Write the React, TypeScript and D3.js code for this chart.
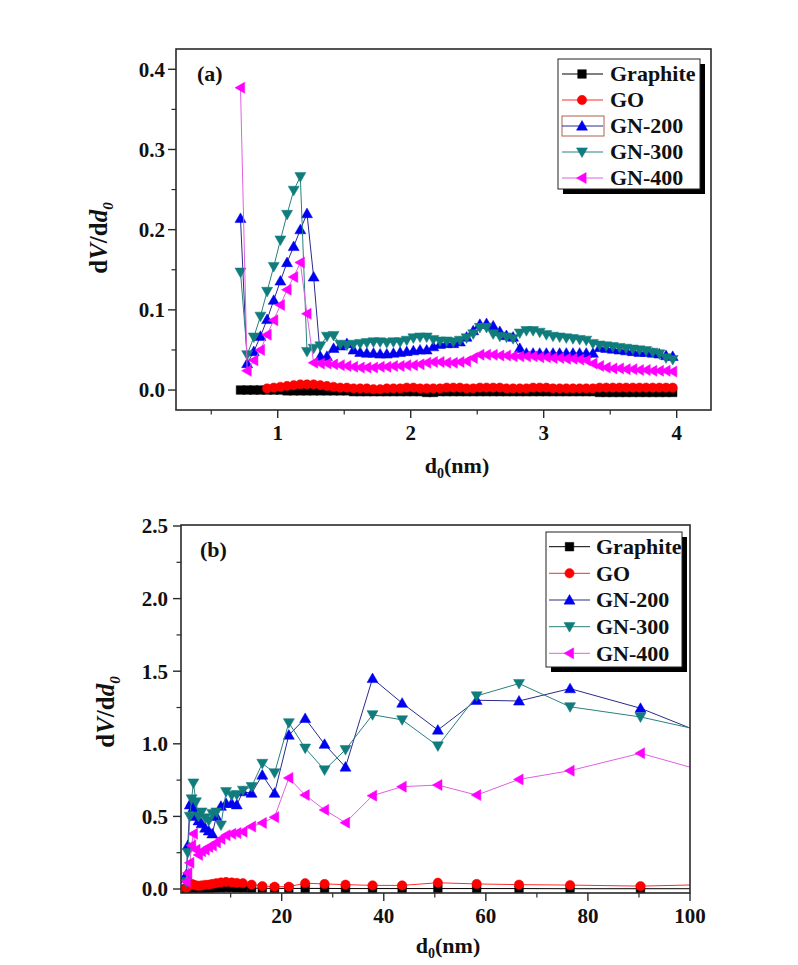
import React from 'react';
import * as d3 from 'd3';

// ---------- shared series meta ----------
const SERIES_NAMES = ['Graphite', 'GO', 'GN-200', 'GN-300', 'GN-400'];
const MARKER_COLORS = ['#000000', '#ff0000', '#0000f0', '#107c7c', '#ff00ff'];
const LINE_COLORS = ['#000000', '#ff2a2a', '#2a2a8c', '#2a8080', '#e060e0'];
const SHAPES = ['square', 'circle', 'up', 'down', 'left'];

// ---------- panel (a) data ----------
const X_A = [
  0.72, 0.77, 0.82, 0.87, 0.92, 0.97, 1.02, 1.07, 1.12, 1.17,
  1.22, 1.27, 1.32, 1.37, 1.42, 1.47, 1.52, 1.57, 1.62, 1.67,
  1.72, 1.77, 1.82, 1.87, 1.92, 1.97, 2.02, 2.07, 2.12, 2.17,
  2.22, 2.27, 2.32, 2.37, 2.42, 2.47, 2.52, 2.57, 2.62, 2.67,
  2.72, 2.77, 2.82, 2.87, 2.92, 2.97, 3.02, 3.07, 3.12, 3.17,
  3.22, 3.27, 3.32, 3.37, 3.42, 3.47, 3.52, 3.57, 3.62, 3.67,
  3.72, 3.77, 3.82, 3.87, 3.92, 3.97,
];
const GRAPHITE_A = [
  0.0, 0.0, 0.0, 0.0, 0.0, 0.0, 0.0, -0.001, -0.001, -0.001,
  -0.001, -0.001, -0.001, -0.001, -0.001, -0.001, -0.001, -0.002, -0.002, -0.002,
  -0.002, -0.002, -0.002, -0.002, -0.002, -0.002, -0.002, -0.002, -0.003, -0.003,
  -0.002, -0.002, -0.002, -0.002, -0.002, -0.002, -0.002, -0.002, -0.002, -0.002,
  -0.002, -0.002, -0.002, -0.002, -0.002, -0.002, -0.002, -0.002, -0.002, -0.002,
  -0.002, -0.002, -0.002, -0.002, -0.003, -0.003, -0.003, -0.003, -0.003, -0.003,
  -0.003, -0.003, -0.003, -0.003, -0.003, -0.003,
];
const GO_A = [
  null, null, null, null, 0.002, 0.003, 0.004, 0.005, 0.006, 0.007,
  0.007, 0.007, 0.006, 0.005, 0.004, 0.003, 0.003, 0.002, 0.002, 0.002,
  0.001, 0.001, 0.002, 0.002, 0.002, 0.003, 0.003, 0.002, 0.002, 0.002,
  0.002, 0.003, 0.003, 0.003, 0.002, 0.002, 0.003, 0.003, 0.003, 0.003,
  0.002, 0.002, 0.002, 0.002, 0.003, 0.003, 0.003, 0.002, 0.002, 0.002,
  0.002, 0.002, 0.002, 0.002, 0.003, 0.003, 0.003, 0.003, 0.003, 0.003,
  0.003, 0.003, 0.003, 0.003, 0.003, 0.003,
];
const GN200_A = [
  0.214, 0.033, 0.048, 0.067, 0.088, 0.112, 0.136, 0.159, 0.179, 0.200,
  0.220, 0.141, 0.042, 0.042, 0.052, 0.055, 0.058, 0.050, 0.047, 0.046,
  0.046, 0.045, 0.045, 0.046, 0.047, 0.048, 0.049, 0.050, 0.050, 0.054,
  0.057, 0.058, 0.058, 0.060, 0.066, 0.074, 0.082, 0.083, 0.080, 0.073,
  0.068, 0.066, 0.052, 0.046, 0.046, 0.046, 0.046, 0.046, 0.046, 0.046,
  0.046, 0.046, 0.046, 0.046, 0.053, 0.052, 0.051, 0.050, 0.049, 0.048,
  0.047, 0.047, 0.046, 0.045, 0.043, 0.042,
];
const GN300_A = [
  0.147, 0.044, 0.066, 0.092, 0.123, 0.154, 0.187, 0.219, 0.249, 0.266,
  0.048, 0.052, 0.055, 0.067, 0.068, 0.057, 0.056, 0.057, 0.058, 0.059,
  0.060, 0.060, 0.059, 0.060, 0.060, 0.062, 0.065, 0.066, 0.066, 0.063,
  0.061, 0.061, 0.060, 0.062, 0.065, 0.070, 0.078, 0.078, 0.070, 0.067,
  0.066, 0.064, 0.071, 0.074, 0.074, 0.072, 0.069, 0.067, 0.066, 0.065,
  0.064, 0.063, 0.062, 0.058, 0.056, 0.055, 0.054, 0.053, 0.052, 0.051,
  0.050, 0.049, 0.047, 0.045, 0.040, 0.038,
];
const GN400_A = [
  0.377, 0.024, 0.037, 0.050, 0.069, 0.087, 0.106, 0.125, 0.141, 0.159,
  0.095, 0.034, 0.033, 0.033, 0.032, 0.031, 0.030, 0.029, 0.028, 0.028,
  0.028, 0.029, 0.029, 0.030, 0.030, 0.031, 0.031, 0.032, 0.034, 0.035,
  0.035, 0.034, 0.034, 0.035, 0.036, 0.040, 0.044, 0.044, 0.044, 0.043,
  0.043, 0.042, 0.042, 0.042, 0.042, 0.041, 0.041, 0.040, 0.040, 0.039,
  0.039, 0.038, 0.037, 0.033, 0.030, 0.028, 0.027, 0.027, 0.026, 0.026,
  0.025, 0.025, 0.024, 0.024, 0.024, 0.023,
];
const X_TICKS_A = [1, 2, 3, 4];
const X_MINOR_A = [0.5, 1.5, 2.5, 3.5];
const Y_TICKS_A = [0.0, 0.1, 0.2, 0.3, 0.4];
const Y_MINOR_A = [0.05, 0.15, 0.25, 0.35];

// ---------- panel (b) data ----------
const X_B = [
  1.3, 1.6, 2.0, 2.35, 2.7, 3.2, 3.7, 4.3, 5.0, 5.7,
  6.4, 7.2, 8.1, 9.1, 10.2, 11.2, 12.4, 14.1, 16.2, 18.6,
  21.4, 24.6, 28.4, 32.5, 37.8, 43.6, 50.6, 58.2, 66.5, 76.5,
  90.3, 107,
];
const GRAPHITE_B = [
  0.0, 0.002, 0.003, 0.003, 0.004, 0.004, 0.005, 0.005, 0.006, 0.007,
  0.008, 0.009, 0.010, 0.010, 0.010, 0.009, 0.008, 0.006, 0.005, 0.004,
  0.004, 0.004, 0.004, 0.003, 0.003, 0.003, 0.003, 0.003, 0.003, 0.002,
  0.002, 0.002,
];
const GO_B = [
  0.005, 0.02, 0.03, 0.035, 0.03, 0.025, 0.022, 0.025, 0.028, 0.03,
  0.035, 0.04, 0.045, 0.048, 0.045, 0.042, 0.04, 0.03, 0.02, 0.016,
  0.016, 0.04, 0.035, 0.03, 0.025, 0.025, 0.043, 0.035, 0.03, 0.027,
  0.02, 0.033,
];
const GN200_B = [
  0.10, 0.30, 0.58, 0.60, 0.56, 0.50, 0.47, 0.45, 0.42, 0.40,
  0.38, 0.50, 0.57, 0.59, 0.59, 0.58, 0.67, 0.66, 0.785, 0.66,
  1.06, 1.175, 0.997, 0.84, 1.45, 1.28, 1.095, 1.30, 1.295, 1.38,
  1.245, 1.01,
];
const GN300_B = [
  0.05, 0.25, 0.50, 0.62, 0.73, 0.60, 0.50, 0.53, 0.49, 0.47,
  0.52, 0.53, 0.44, 0.67, 0.645, 0.65, 0.68, 0.705, 0.865, 0.80,
  1.145, 0.97, 0.82, 0.96, 1.20, 1.165, 0.985, 1.33, 1.415, 1.255,
  1.185, 1.055,
];
const GN400_B = [
  0.05, 0.11, 0.18, 0.30, 0.38, 0.27, 0.235, 0.26, 0.27, 0.29,
  0.30, 0.32, 0.345, 0.37, 0.38, 0.385, 0.395, 0.43, 0.455, 0.495,
  0.765, 0.647, 0.545, 0.457, 0.643, 0.705, 0.716, 0.647, 0.755, 0.815,
  0.935, 0.77,
];
const X_TICKS_B = [20, 40, 60, 80, 100];
const X_MINOR_B = [10, 30, 50, 70, 90];
const Y_TICKS_B = [0.0, 0.5, 1.0, 1.5, 2.0, 2.5];
const Y_MINOR_B = [0.25, 0.75, 1.25, 1.75, 2.25];

const FONT = "'Liberation Serif', 'Times New Roman', serif";

function symbolPath(shape: string, s: number): string {
  const h = s / 2;
  switch (shape) {
    case 'square': {
      const q = h * 0.78;
      return `M${-q},${-q}H${q}V${q}H${-q}Z`;
    }
    case 'circle': {
      const r = h * 0.85;
      return `M${-r},0A${r},${r} 0 1,0 ${r},0A${r},${r} 0 1,0 ${-r},0Z`;
    }
    case 'up':
      return `M0,${-h}L${h},${h * 0.75}L${-h},${h * 0.75}Z`;
    case 'down':
      return `M0,${h}L${h},${-h * 0.75}L${-h},${-h * 0.75}Z`;
    case 'left':
    default:
      return `M${-h},0L${h * 0.75},${-h}L${h * 0.75},${h}Z`;
  }
}

interface PanelCfg {
  id: string;
  box: { L: number; R: number; T: number; B: number };
  xDomain: [number, number];
  yDomain: [number, number];
  xs: number[];
  series: (number | null)[][];
  xTicks: number[];
  xMinor: number[];
  yTicks: number[];
  yMinor: number[];
  yFmt: (v: number) => string;
  markerSize: number;
  yLabelEnd: number;
  xLabelBase: number;
  panelLabel: string;
  panelLabelPos: [number, number];
  yTitlePos: [number, number];
  xTitlePos: [number, number];
  legend: { x: number; y: number; w: number; h: number; rows: number[]; lx1: number; lx2: number; sx: number; tx: number; hilite?: boolean };
}

function Panel({ cfg }: { cfg: PanelCfg }) {
  const { L, R, T, B } = cfg.box;
  const x = d3.scaleLinear().domain(cfg.xDomain).range([L, R]);
  const y = d3.scaleLinear().domain(cfg.yDomain).range([B, T]);
  const line = d3
    .line<[number, number | null]>()
    .defined((d) => d[1] != null)
    .x((d) => x(d[0]))
    .y((d) => y(d[1] as number));
  const clipId = `clip-${cfg.id}`;
  const lg = cfg.legend;
  return (
    <g>
      <defs>
        <clipPath id={clipId}>
          <rect x={L} y={T} width={R - L} height={B - T} />
        </clipPath>
      </defs>
      <g clipPath={`url(#${clipId})`}>
        {cfg.series.map((vals, i) => {
          const pts: [number, number | null][] = cfg.xs.map((xv, j) => [xv, vals[j]]);
          return (
            <g key={i}>
              <path d={line(pts) || ''} fill="none" stroke={LINE_COLORS[i]} strokeWidth={1} />
              {pts
                .filter((p) => p[1] != null)
                .map((p, j) => (
                  <path
                    key={j}
                    d={symbolPath(SHAPES[i], cfg.markerSize)}
                    transform={`translate(${x(p[0])},${y(p[1] as number)})`}
                    fill={MARKER_COLORS[i]}
                    stroke={MARKER_COLORS[i]}
                    strokeWidth={0.5}
                  />
                ))}
            </g>
          );
        })}
      </g>
      {/* frame */}
      <rect x={L} y={T} width={R - L} height={B - T} fill="none" stroke="#2a2a2a" strokeWidth={1.6} />
      {/* x ticks */}
      {cfg.xTicks.map((t) => (
        <g key={`xt${t}`}>
          <line x1={x(t)} x2={x(t)} y1={B} y2={B + 8} stroke="#2a2a2a" strokeWidth={1.4} />
          <text x={x(t)} y={cfg.xLabelBase} textAnchor="middle" fontFamily={FONT} fontWeight="bold" fontSize={21} fill="#111">
            {String(t)}
          </text>
        </g>
      ))}
      {cfg.xMinor.map((t) => (
        <line key={`xm${t}`} x1={x(t)} x2={x(t)} y1={B} y2={B + 4.5} stroke="#2a2a2a" strokeWidth={1.2} />
      ))}
      {/* y ticks */}
      {cfg.yTicks.map((t) => (
        <g key={`yt${t}`}>
          <line x1={L - 8} x2={L} y1={y(t)} y2={y(t)} stroke="#2a2a2a" strokeWidth={1.4} />
          <text x={cfg.yLabelEnd} y={y(t)} dy="0.35em" textAnchor="end" fontFamily={FONT} fontWeight="bold" fontSize={21} fill="#111">
            {cfg.yFmt(t)}
          </text>
        </g>
      ))}
      {cfg.yMinor.map((t) => (
        <line key={`ym${t}`} x1={L - 4.5} x2={L} y1={y(t)} y2={y(t)} stroke="#2a2a2a" strokeWidth={1.2} />
      ))}
      {/* panel label */}
      <text x={cfg.panelLabelPos[0]} y={cfg.panelLabelPos[1]} fontFamily={FONT} fontWeight="bold" fontSize={22} fill="#111">
        {cfg.panelLabel}
      </text>
      {/* y title */}
      <text
        transform={`translate(${cfg.yTitlePos[0]},${cfg.yTitlePos[1]}) rotate(-90)`}
        textAnchor="middle"
        fontFamily={FONT}
        fontWeight="bold"
        fontSize={25}
        fill="#111"
      >
        d<tspan fontStyle="italic">V</tspan>/d<tspan fontStyle="italic">d</tspan>
        <tspan fontStyle="italic" fontSize={15} dy={6}>0</tspan>
      </text>
      {/* x title */}
      <text x={cfg.xTitlePos[0]} y={cfg.xTitlePos[1]} textAnchor="middle" fontFamily={FONT} fontWeight="bold" fontSize={22} fill="#111">
        d<tspan fontSize={14} dy={5}>0</tspan>
        <tspan dy={-5}>(nm)</tspan>
      </text>
      {/* legend */}
      <rect x={lg.x + 5} y={lg.y + 5} width={lg.w} height={lg.h} fill="#000" />
      <rect x={lg.x} y={lg.y} width={lg.w} height={lg.h} fill="#fff" stroke="#222" strokeWidth={1} />
      {SERIES_NAMES.map((name, i) => (
        <g key={name}>
          {lg.hilite && i === 2 && (
            <rect x={lg.lx1} y={lg.rows[i] - 10} width={lg.lx2 - lg.lx1 + 1} height={20} fill="none" stroke="#b0604a" strokeWidth={1} />
          )}
          <line x1={lg.lx1} x2={lg.lx2} y1={lg.rows[i]} y2={lg.rows[i]} stroke={LINE_COLORS[i]} strokeWidth={1} />
          <path d={symbolPath(SHAPES[i], cfg.markerSize)} transform={`translate(${lg.sx},${lg.rows[i]})`} fill={MARKER_COLORS[i]} stroke={MARKER_COLORS[i]} strokeWidth={0.5} />
          <text x={lg.tx} y={lg.rows[i]} dy="0.34em" fontFamily={FONT} fontWeight="bold" fontSize={22} fill="#111">
            {name}
          </text>
        </g>
      ))}
    </g>
  );
}

const PANEL_A: PanelCfg = {
  id: 'a',
  box: { L: 176, R: 711, T: 49, B: 410 },
  xDomain: [0.235, 4.258],
  yDomain: [-0.0249, 0.4253],
  xs: X_A,
  series: [GRAPHITE_A, GO_A, GN200_A, GN300_A, GN400_A],
  xTicks: X_TICKS_A,
  xMinor: X_MINOR_A,
  yTicks: Y_TICKS_A,
  yMinor: Y_MINOR_A,
  yFmt: d3.format('.1f'),
  markerSize: 11,
  yLabelEnd: 165,
  xLabelBase: 440,
  panelLabel: '(a)',
  panelLabelPos: [197, 81],
  yTitlePos: [107, 238],
  xTitlePos: [457, 473],
  legend: { x: 558, y: 59, w: 142, h: 130, rows: [74, 100, 126, 152, 178], lx1: 562, lx2: 603, sx: 582, tx: 610, hilite: true },
};

const PANEL_B: PanelCfg = {
  id: 'b',
  box: { L: 181, R: 690, T: 525, B: 893 },
  xDomain: [0.27, 100],
  yDomain: [-0.0275, 2.507],
  xs: X_B,
  series: [GRAPHITE_B, GO_B, GN200_B, GN300_B, GN400_B],
  xTicks: X_TICKS_B,
  xMinor: X_MINOR_B,
  yTicks: Y_TICKS_B,
  yMinor: Y_MINOR_B,
  yFmt: d3.format('.1f'),
  markerSize: 11,
  yLabelEnd: 168,
  xLabelBase: 923,
  panelLabel: '(b)',
  panelLabelPos: [200, 557],
  yTitlePos: [114, 712],
  xTitlePos: [448, 953],
  legend: { x: 546, y: 532, w: 136, h: 135, rows: [546.7, 573.3, 600, 626.7, 653.3], lx1: 549, lx2: 590, sx: 569.5, tx: 596 },
};

export default function App() {
  return (
    <svg
      width={798}
      height={965}
      viewBox="0 0 798 965"
      style={{ position: 'absolute', left: 0, top: 0, background: '#fff' }}
    >
      <rect x={0} y={0} width={798} height={965} fill="#fff" />
      <Panel cfg={PANEL_A} />
      <Panel cfg={PANEL_B} />
    </svg>
  );
}
